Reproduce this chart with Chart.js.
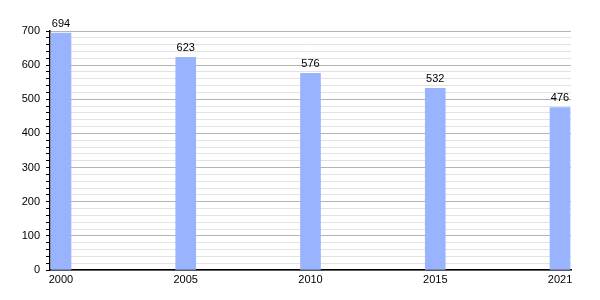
<!DOCTYPE html>
<html>
<head>
<meta charset="utf-8">
<script src="https://cdn.jsdelivr.net/npm/chart.js@4/dist/chart.umd.min.js"></script>
<style>
  html, body { margin: 0; padding: 0; background: #fff; }
  #wrap { width: 600px; height: 300px; }
</style>
</head>
<body>
<div id="wrap"><canvas id="canvas1"></canvas></div>
<script>
var years = ["2000", "2005", "2010", "2015", "2021"];
var values = [694, 623, 576, 532, 476];
var yTicks = [0, 100, 200, 300, 400, 500, 600, 700];

var barColor = "#99b3ff";

// value labels above each bar
var barLabels = {
  id: "barLabels",
  afterDatasetsDraw: function(chart) {
    var ctx = chart.ctx;
    var meta = chart.getDatasetMeta(0);
    ctx.save();
    ctx.font = "11px 'Liberation Sans', Arial, sans-serif";
    ctx.fillStyle = "#000";
    ctx.textAlign = "center";
    ctx.textBaseline = "bottom";
    for (var i = 0; i < meta.data.length; i++) {
      var bar = meta.data[i];
      ctx.fillText(values[i], bar.x, bar.y - 4);
    }
    ctx.restore();
  }
};

var pts = [];
for (var i = 0; i < values.length; i++) {
  pts.push({x: i, y: values[i]});
}

Chart.defaults.font.family = "'Liberation Sans', Arial, sans-serif";
Chart.defaults.font.size = 11;
Chart.defaults.color = "#000";

var ctx1 = document.getElementById("canvas1");
var myChart1 = new Chart(ctx1, {
  type: "bar",
  data: {
    datasets: [{
      data: pts,
      backgroundColor: barColor,
      borderWidth: 0,
      barThickness: 20
    }]
  },
  options: {
    responsive: true,
    maintainAspectRatio: false,
    animation: false,
    layout: { padding: { left: 0, right: 29, top: 31, bottom: 0 } },
    plugins: { legend: { display: false }, tooltip: { enabled: false } },
    scales: {
      x: {
        type: "linear",
        offset: false,
        min: -0.088,
        max: years.length - 1 + 0.088,
        grid: { display: false, drawTicks: false, offset: false },
        border: { display: true, color: "#000", width: 1.5 },
        afterBuildTicks: function(scale) {
          scale.ticks = years.map(function(y, i) { return {value: i}; });
        },
        ticks: {
          padding: 3,
          maxRotation: 0,
          autoSkip: false,
          callback: function(v) { return years[v]; }
        },
        afterFit: function(scale) { scale.height = 30; }
      },
      y: {
        min: 0,
        max: 700,
        ticks: {
          stepSize: 20,
          padding: 6,
          autoSkip: false,
          callback: function(v) { return yTicks.indexOf(v) >= 0 ? v : ""; }
        },
        grid: {
          color: function(c) { return c.tick.value % 100 === 0 ? "#b4b4b4" : "#e2e2e2"; },
          tickColor: "#000",
          tickLength: 4
        },
        border: { display: true, color: "#000", width: 1.5 },
        afterFit: function(scale) { scale.width = 50; }
      }
    }
  },
  plugins: [barLabels]
});
</script>
</body>
</html>
